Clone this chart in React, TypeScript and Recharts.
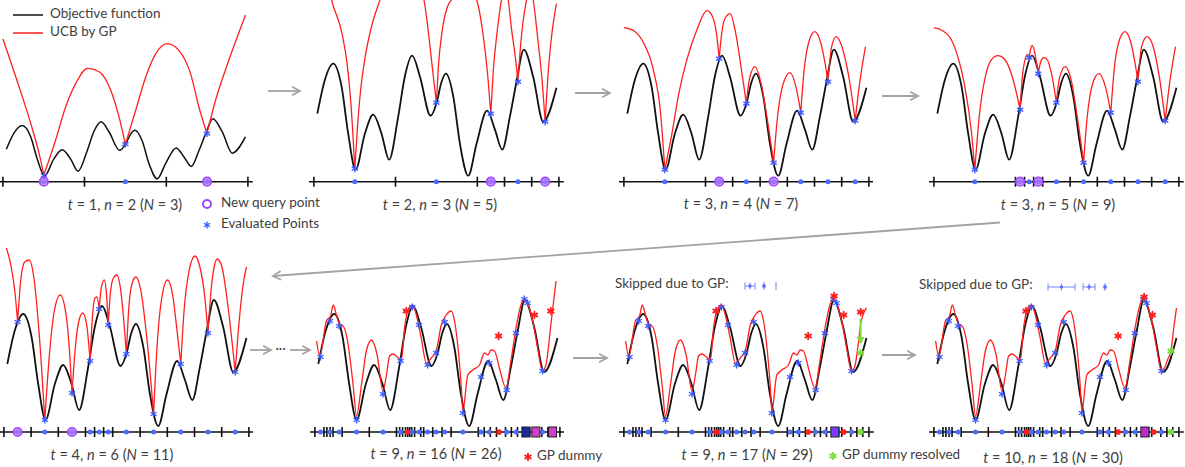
import React from "react";
import { ComposedChart, Line, Scatter, XAxis, YAxis, ReferenceLine } from "recharts";

type Pt = [number, number];

const objective: Pt[] = [
  [0.014, 6.8], [0.045, 10.2], [0.079, 11.8], [0.113, 9.5], [0.14, 4.8], [0.17, 1.2],
  [0.208, 4.8], [0.242, 6.7], [0.276, 4.8], [0.307, 2.2], [0.344, 6.5], [0.371, 10.5],
  [0.401, 12.6], [0.433, 10.5], [0.476, 6.6], [0.501, 7.9], [0.52, 9.9], [0.539, 10.8],
  [0.569, 8.5], [0.596, 3.8], [0.63, 0.6], [0.664, 3.8], [0.707, 7.1], [0.739, 5.2],
  [0.769, 3.2], [0.8, 6.5], [0.827, 10], [0.857, 13.2], [0.895, 10.5], [0.936, 6], [0.99, 9.4],
];

// ---- t = 1, n = 2
const ucb1: Pt[][] = [
  [[0, 30], [0.068, 19.6], [0.122, 10.8], [0.152, 5], [0.167, 1.4]],
  [[0.167, 1.4], [0.215, 8.7], [0.256, 15.7], [0.297, 20.6], [0.345, 23.8], [0.393, 23.1], [0.44, 19.2], [0.474, 13.6], [0.5, 7.8]],
  [[0.5, 7.8], [0.542, 15], [0.583, 22], [0.624, 26.9], [0.671, 29], [0.718, 27.6], [0.766, 22.7], [0.8, 15.7], [0.833, 10.1]],
  [[0.833, 10.1], [0.868, 17.1], [0.922, 25.5], [0.99, 35]],
];
const ticks1 = [0, 0.333, 0.667, 1];
const stars1: Pt[] = [[0.167, 1.3], [0.5, 7.9], [0.833, 10.1]];
const query1 = [0.167, 0.833];

// ---- t = 2, n = 3
const ucb2: Pt[][] = [
  [[0, 30], [0.072, 18.2], [0.115, 14.8], [0.137, 11.5], [0.152, 7.5], [0.167, 1.3]],
  [[0.167, 1.3], [0.178, 5.5], [0.19, 9], [0.206, 12], [0.23, 15], [0.27, 18.2], [0.33, 22], [0.4, 21], [0.449, 18.2], [0.468, 14.8], [0.483, 11.5], [0.5, 7.9]],
  [[0.5, 7.9], [0.508, 11.5], [0.522, 14.8], [0.545, 17.5], [0.562, 18.2], [0.61, 20], [0.664, 18.2], [0.69, 14.8], [0.708, 11], [0.722, 6.8]],
  [[0.722, 6.8], [0.732, 11], [0.748, 15], [0.766, 18.2], [0.78, 19.5], [0.793, 18.2], [0.808, 15], [0.822, 12.5], [0.833, 10]],
  [[0.833, 10], [0.845, 14], [0.868, 18.2], [0.882, 19.5], [0.895, 18.2], [0.915, 14], [0.932, 10], [0.944, 6]],
  [[0.944, 6], [0.955, 10.5], [0.97, 14.5], [0.99, 17.8]],
];
const ticks2 = [0, 0.333, 0.667, 0.778, 0.889, 1];
const stars2: Pt[] = [[0.167, 1.3], [0.5, 7.9], [0.722, 6.8], [0.833, 10], [0.944, 6]];
const query2 = [0.722, 0.944];

// ---- t = 3, n = 4
const ucb3: Pt[][] = [
  [[0, 15.4], [0.04, 15.1], [0.08, 13.9], [0.12, 11.2], [0.15, 6.8], [0.167, 1.2]],
  [[0.167, 1.2], [0.196, 4.8], [0.224, 8.8], [0.257, 12.2], [0.298, 15.2], [0.339, 17.1], [0.362, 16.5], [0.378, 14.8], [0.389, 12.3]],
  [[0.389, 12.3], [0.398, 14.6], [0.412, 16.3], [0.434, 16.8], [0.455, 15], [0.478, 11.5], [0.5, 7.8]],
  [[0.5, 7.8], [0.512, 10.2], [0.535, 11.5], [0.56, 9.8], [0.588, 5.8], [0.611, 1.9]],
  [[0.611, 1.9], [0.625, 6], [0.648, 9.6], [0.678, 10.9], [0.702, 9.5], [0.722, 6.9]],
  [[0.722, 6.9], [0.735, 11], [0.755, 14], [0.779, 15], [0.802, 14], [0.82, 12], [0.833, 10]],
  [[0.833, 10], [0.848, 13.5], [0.867, 14.5], [0.89, 13.5], [0.918, 10.5], [0.944, 6.1]],
  [[0.944, 6.1], [0.962, 9.8], [0.986, 13.5]],
];
const ticks3 = [0, 0.333, 0.444, 0.556, 0.667, 0.778, 0.889, 1];
const stars3: Pt[] = [[0.167, 1.2], [0.389, 12.3], [0.5, 7.8], [0.611, 1.9], [0.722, 6.9], [0.833, 10], [0.944, 6.1]];
const query3 = [0.389, 0.611];

// ---- t = 3, n = 5
const ucb4: Pt[][] = [
  [[0, 15.4], [0.035, 15.1], [0.069, 14.3], [0.1, 12.3], [0.124, 9.8], [0.154, 4.8], [0.167, 1.2]],
  [[0.167, 1.2], [0.185, 6.5], [0.21, 10.5], [0.235, 12.2], [0.261, 12.6], [0.29, 12.2], [0.32, 10.5], [0.352, 7.2]],
  [[0.352, 7.2], [0.36, 10.2], [0.372, 12.2], [0.381, 12.7], [0.389, 12.4]],
  [[0.389, 12.4], [0.395, 13.3], [0.401, 13.6], [0.41, 13.1], [0.418, 12], [0.426, 10.8]],
  [[0.426, 10.8], [0.436, 12], [0.448, 12.4], [0.46, 12.3], [0.48, 10.8], [0.5, 7.9]],
  [[0.5, 7.9], [0.512, 10.3], [0.536, 11.5], [0.56, 10.2], [0.588, 6], [0.611, 1.9]],
  [[0.611, 1.9], [0.625, 6.3], [0.648, 9.8], [0.673, 10.8], [0.7, 9.5], [0.722, 6.9]],
  [[0.722, 6.9], [0.735, 11], [0.755, 14], [0.78, 15], [0.803, 14], [0.82, 12], [0.833, 10]],
  [[0.833, 10], [0.848, 13.5], [0.87, 14.5], [0.895, 13.5], [0.92, 10.5], [0.944, 6.1]],
  [[0.944, 6.1], [0.962, 9.8], [0.986, 13.5]],
];
const ticks4 = [0, 0.333, 0.37, 0.407, 0.444, 0.556, 0.667, 0.778, 0.889, 1];
const stars4: Pt[] = [[0.167, 1.2], [0.352, 7.2], [0.389, 12.4], [0.426, 10.8], [0.5, 7.9], [0.611, 1.9], [0.722, 6.9], [0.833, 10], [0.944, 6.1]];
const query4 = [0.352, 0.426];

// ---- t = 4, n = 6
const ucb5: Pt[][] = [
  [[0.01, 18.4], [0.03, 16.5], [0.045, 14], [0.056, 11]],
  [[0.056, 11], [0.068, 15], [0.085, 17], [0.103, 17.2], [0.122, 15.5], [0.145, 9.5], [0.167, 1.2]],
  [[0.167, 1.2], [0.185, 7.5], [0.205, 12], [0.23, 13.7], [0.255, 11.5], [0.268, 8], [0.278, 3.9]],
  [[0.278, 3.9], [0.29, 8], [0.305, 11], [0.322, 11.9], [0.338, 10.7], [0.352, 7.1]],
  [[0.352, 7.1], [0.36, 11], [0.372, 13.4], [0.38, 13.5], [0.389, 12.3]],
  [[0.389, 12.3], [0.398, 14.5], [0.41, 15.2], [0.418, 14], [0.426, 10.7]],
  [[0.426, 10.7], [0.435, 14], [0.447, 15.4], [0.461, 15.7], [0.475, 14.5], [0.488, 11.5], [0.5, 7.8]],
  [[0.5, 7.8], [0.51, 12.5], [0.525, 15], [0.539, 15.5], [0.56, 14], [0.585, 9], [0.611, 1.8]],
  [[0.611, 1.8], [0.625, 8.5], [0.645, 13.5], [0.668, 15.2], [0.69, 13.5], [0.705, 10.5], [0.722, 6.8]],
  [[0.722, 6.8], [0.735, 12], [0.755, 16], [0.78, 17.6], [0.8, 16.5], [0.82, 13.5], [0.833, 9.9]],
  [[0.833, 9.9], [0.845, 14], [0.858, 16.5], [0.871, 17.3], [0.89, 16.5], [0.915, 12.5], [0.944, 6]],
  [[0.944, 6], [0.96, 11], [0.975, 14.5], [0.99, 16.5]],
];
const ticks5 = [0, 0.111, 0.222, 0.333, 0.37, 0.407, 0.444, 0.556, 0.667, 0.778, 0.889, 1];
const stars5: Pt[] = [[0.056, 11], [0.167, 1.2], [0.278, 3.9], [0.352, 7.1], [0.389, 12.3], [0.426, 10.7], [0.5, 7.8], [0.611, 1.8], [0.722, 6.8], [0.833, 9.9], [0.944, 6]];
const query5 = [0.056, 0.278];

// ---- t = 9 .. 10 (GP-assisted), shared body of the UCB and its three tails
const ucbLate: Pt[] = [
  [0.007, 9.1], [0.02, 7.6], [0.047, 11.1], [0.064, 11.6], [0.075, 12.7], [0.088, 11.7], [0.102, 10.7],
  [0.115, 10.6], [0.136, 8.7], [0.156, 4.7], [0.17, 1.6], [0.19, 4.7], [0.21, 8.1], [0.231, 9.2],
  [0.254, 7.7], [0.278, 4.1], [0.292, 5.7], [0.305, 7.6], [0.319, 7.8], [0.332, 7.6], [0.353, 7.2],
  [0.366, 10.4], [0.38, 12.2], [0.398, 12.7], [0.414, 11.7], [0.434, 9.4], [0.455, 6.9], [0.475, 7.4],
  [0.495, 8.1], [0.516, 10.7], [0.536, 11.7], [0.556, 12.1], [0.57, 11.1], [0.583, 8.7], [0.597, 4.7],
  [0.604, 2.1], [0.624, 5.7], [0.645, 6.2], [0.672, 6.7], [0.692, 7.9], [0.706, 7.7], [0.719, 8.2],
  [0.733, 8.1], [0.753, 6.4], [0.78, 4.4], [0.8, 7.1], [0.821, 10.4], [0.841, 12.7], [0.855, 13.3],
  [0.872, 12.6], [0.889, 11.1], [0.909, 8.4], [0.929, 6.1],
];
const tail6: Pt[] = [[0.943, 6.7], [0.963, 10.7], [0.984, 15.1]];
const tail7: Pt[] = [[0.943, 6.6], [0.955, 8.5], [0.968, 11], [0.99, 12.4]];
const tail8: Pt[] = [[0.943, 6.5], [0.955, 7.3], [0.968, 8.2], [0.978, 10.2], [0.99, 12.4]];
const ticksLate = [
  0, 0.037, 0.049, 0.062, 0.074, 0.111, 0.222, 0.333, 0.346, 0.358, 0.37, 0.379, 0.387, 0.395,
  0.407, 0.432, 0.444, 0.481, 0.519, 0.556, 0.667, 0.691, 0.716, 0.741, 0.778, 0.802, 0.827,
  0.852, 0.864, 0.877, 0.889, 0.926, 0.951, 0.975, 1,
];
const starsLate: Pt[] = [
  [0.023, 7.5], [0.061, 11.1], [0.099, 10.6], [0.17, 1.2], [0.278, 3.8], [0.35, 7.1], [0.398, 12.5],
  [0.425, 10.7], [0.46, 6.7], [0.495, 7.9], [0.53, 11], [0.604, 1.9], [0.678, 5.5], [0.712, 6.9],
  [0.783, 4.2], [0.821, 9.9], [0.855, 13.3], [0.868, 12.9], [0.929, 6.1],
];
const dummies6: Pt[] = [[0.373, 12.1], [0.75, 9.6], [0.896, 11.7], [0.963, 12.1]];
const dummies7: Pt[] = [[0.376, 12.1], [0.752, 9.6], [0.858, 13.6], [0.897, 11.7], [0.966, 12]];
const dummies8: Pt[] = [[0.376, 12.1], [0.752, 9.6], [0.858, 13.5], [0.892, 11.7]];
const resolved7: Pt[] = [[0.966, 7.9]];
const resolved8: Pt[] = [[0.968, 8.1]];
const arrow7: Pt[] = [[0.966, 11.3], [0.966, 8.9]];

const TOP_AXIS = 181.7;
const BOTTOM_AXIS = 431.7;
const PW = 245;
const XPAD = 0.02;

const BLACK = "#111";
const RED = "#ff1f1f";
const BLUE = "#3b5bff";
const PURPLE = "#a347ff";
const GREEN = "#7ddc3a";

type Row = { x: number; y: number | null };
const toRows = (pts: Pt[]): Row[] => pts.map(([x, y]) => ({ x, y }));
const onAxis = (xs: number[]): Row[] => xs.map((x) => ({ x, y: 0 }));
const joinArcs = (arcs: Pt[][]): Row[] => {
  const out: Row[] = [];
  arcs.forEach((arc, i) => {
    if (i > 0) out.push({ x: arc[0][0], y: null });
    arc.forEach(([x, y]) => out.push({ x, y }));
  });
  return out;
};

const tickShape = (p: any) => (
  <line x1={p.cx} x2={p.cx} y1={p.cy - 5} y2={p.cy + 5} stroke={BLACK} strokeWidth={1.6} />
);
const dotShape = (fill: string, r: number) => (p: any) => <circle cx={p.cx} cy={p.cy} r={r} fill={fill} />;
const starShape = (color: string, r: number, w: number) => (p: any) => (
  <g stroke={color} strokeWidth={w} strokeLinecap="round">
    <line x1={p.cx} y1={p.cy - r} x2={p.cx} y2={p.cy + r} />
    <line x1={p.cx - r * 0.87} y1={p.cy - r / 2} x2={p.cx + r * 0.87} y2={p.cy + r / 2} />
    <line x1={p.cx - r * 0.87} y1={p.cy + r / 2} x2={p.cx + r * 0.87} y2={p.cy - r / 2} />
  </g>
);
const ringShape = (p: any) => (
  <circle cx={p.cx} cy={p.cy} r={4.3} fill="#b478ff" fillOpacity={0.75} stroke={PURPLE} strokeWidth={1.6} />
);
const squareShape = (fill: string) => (p: any) => (
  <rect x={p.cx - 4} y={p.cy - 5} width={8} height={10} fill={fill} stroke="#222" strokeWidth={1} />
);
const headShape = (p: any) => (
  <path d={`M${p.cx - 4},${p.cy - 6} L${p.cx},${p.cy + 1} L${p.cx + 4},${p.cy - 6} Z`} fill={GREEN} />
);

interface PanelProps {
  x0: number;
  axisY: number;
  scale: number;
  yMin: number;
  yMax: number;
  ucb: Row[];
  ticks: number[];
  stars: Pt[];
  query?: number[];
  squares?: { x: number; fill: string }[];
  dummies?: Pt[];
  redOnAxis?: number[];
  resolved?: Pt[];
  arrow?: Pt[];
  thin?: boolean;
}

function Panel(props: PanelProps) {
  const { x0, axisY, scale, yMin, yMax } = props;
  const width = PW * (1 + 2 * XPAD);
  const height = (yMax - yMin) * scale;
  const top = axisY - yMax * scale;
  return (
    <div style={{ position: "absolute", left: x0 - PW * XPAD, top, width, height }}>
      <ComposedChart width={width} height={height} margin={{ top: 0, right: 0, bottom: 0, left: 0 }}>
        <XAxis type="number" dataKey="x" domain={[-XPAD, 1 + XPAD]} hide allowDataOverflow />
        <YAxis type="number" dataKey="y" domain={[yMin, yMax]} hide allowDataOverflow />
        <ReferenceLine y={0} stroke={BLACK} strokeWidth={1.6} />
        <Scatter data={onAxis(props.ticks)} dataKey="y" shape={tickShape} isAnimationActive={false} />
        <Line data={toRows(objective)} dataKey="y" type="monotone" stroke={BLACK}
          strokeWidth={props.thin ? 1.5 : 1.8} dot={false} activeDot={false} isAnimationActive={false} />
        <Line data={props.ucb} dataKey="y" type="monotone" stroke={RED} strokeWidth={1.3}
          dot={false} activeDot={false} connectNulls={false} isAnimationActive={false} />
        {props.arrow && (
          <Line data={toRows(props.arrow)} dataKey="y" type="linear" stroke={GREEN} strokeWidth={2}
            dot={false} activeDot={false} isAnimationActive={false} />
        )}
        {props.arrow && (
          <Scatter data={toRows(props.arrow.slice(1))} dataKey="y" shape={headShape} isAnimationActive={false} />
        )}
        <Scatter data={toRows(props.stars)} dataKey="y" shape={starShape(BLUE, 3, 1.4)} isAnimationActive={false} />
        {props.dummies && (
          <Scatter data={toRows(props.dummies)} dataKey="y" shape={starShape(RED, 3.3, 1.8)} isAnimationActive={false} />
        )}
        {props.resolved && (
          <Scatter data={toRows(props.resolved)} dataKey="y" shape={starShape(GREEN, 3.3, 1.8)} isAnimationActive={false} />
        )}
        <Scatter data={onAxis(props.stars.map((s) => s[0]))} dataKey="y" shape={dotShape("#4a6cff", 2.5)} isAnimationActive={false} />
        {props.redOnAxis && (
          <Scatter data={onAxis(props.redOnAxis)} dataKey="y" shape={dotShape(RED, 2.8)} isAnimationActive={false} />
        )}
        {props.resolved && (
          <Scatter data={onAxis(props.resolved.map((s) => s[0]))} dataKey="y" shape={dotShape(GREEN, 3)} isAnimationActive={false} />
        )}
        {props.squares && props.squares.map((s, i) => (
          <Scatter key={i} data={onAxis([s.x])} dataKey="y" shape={squareShape(s.fill)} isAnimationActive={false} />
        ))}
        {props.query && (
          <Scatter data={onAxis(props.query)} dataKey="y" shape={ringShape} isAnimationActive={false} />
        )}
      </ComposedChart>
    </div>
  );
}

const panels: PanelProps[] = [
  { x0: 3.3, axisY: TOP_AXIS, scale: 4.76, yMin: -3, yMax: 38.17, ucb: joinArcs(ucb1), ticks: ticks1, stars: stars1, query: query1, thin: true },
  { x0: 314, axisY: TOP_AXIS, scale: 10, yMin: -1.4, yMax: 18.17, ucb: joinArcs(ucb2), ticks: ticks2, stars: stars2, query: query2 },
  { x0: 623.5, axisY: TOP_AXIS, scale: 10, yMin: -1.4, yMax: 18.17, ucb: joinArcs(ucb3), ticks: ticks3, stars: stars3, query: query3 },
  { x0: 934, axisY: TOP_AXIS, scale: 10, yMin: -1.4, yMax: 18.17, ucb: joinArcs(ucb4), ticks: ticks4, stars: stars4, query: query4 },
  { x0: 3.5, axisY: BOTTOM_AXIS, scale: 10, yMin: -1.4, yMax: 19.5, ucb: joinArcs(ucb5), ticks: ticks5, stars: stars5, query: query5 },
  {
    x0: 314.5, axisY: BOTTOM_AXIS, scale: 10, yMin: -1.4, yMax: 19.5, ucb: joinArcs([ucbLate.concat(tail6)]),
    ticks: ticksLate, stars: starsLate, dummies: dummies6, redOnAxis: [0.378, 0.752],
    squares: [{ x: 0.861, fill: "#1a2a9a" }, { x: 0.902, fill: "#d23ccf" }, { x: 0.97, fill: "#d23ccf" }],
  },
  {
    x0: 624, axisY: BOTTOM_AXIS, scale: 10, yMin: -1.4, yMax: 19.5, ucb: joinArcs([ucbLate.concat(tail7)]),
    ticks: ticksLate, stars: starsLate, dummies: dummies7, redOnAxis: [0.378, 0.752, 0.898],
    resolved: resolved7, arrow: arrow7, squares: [{ x: 0.861, fill: "#7a3cff" }],
  },
  {
    x0: 934, axisY: BOTTOM_AXIS, scale: 10, yMin: -1.4, yMax: 19.5, ucb: joinArcs([ucbLate.concat(tail8)]),
    ticks: ticksLate, stars: starsLate, dummies: dummies8, redOnAxis: [0.378, 0.752, 0.898],
    resolved: resolved8, squares: [{ x: 0.861, fill: "#c02ad0" }],
  },
];

const captions: { x: number; y: number; t: string; n: string; N: string }[] = [
  { x: 125, y: 206, t: "1", n: "2", N: "3" },
  { x: 440, y: 206, t: "2", n: "3", N: "5" },
  { x: 741, y: 205, t: "3", n: "4", N: "7" },
  { x: 1058, y: 206, t: "3", n: "5", N: "9" },
  { x: 112, y: 456, t: "4", n: "6", N: "11" },
  { x: 436, y: 455, t: "9", n: "16", N: "26" },
  { x: 747, y: 456, t: "9", n: "17", N: "29" },
  { x: 1053, y: 459, t: "10", n: "18", N: "30" },
];

const grayArrows: [number, number, number, number][] = [
  [268, 91, 300, 91], [575, 93, 610, 93], [882, 96, 918, 96], [1000, 222.5, 273, 276],
  [250, 350, 271, 350], [290, 350, 310, 350], [573, 358, 607, 358], [882, 355, 915, 355],
];

function GrayArrow({ a }: { a: [number, number, number, number] }) {
  const [x1, y1, x2, y2] = a;
  const ang = Math.atan2(y2 - y1, x2 - x1);
  const h = 9, s = 0.5;
  const p1 = `${x2 - h * Math.cos(ang - s)},${y2 - h * Math.sin(ang - s)}`;
  const p2 = `${x2 - h * Math.cos(ang + s)},${y2 - h * Math.sin(ang + s)}`;
  return (
    <g stroke="#a3a3a3" strokeWidth={1.8} fill="none">
      <line x1={x1} y1={y1} x2={x2} y2={y2} />
      <polyline points={`${p1} ${x2},${y2} ${p2}`} />
    </g>
  );
}

function Interval({ a, b, y }: { a: number; b: number; y: number }) {
  const m = (a + b) / 2;
  return (
    <g stroke="#7f90ff" strokeWidth={1.1}>
      <line x1={a} y1={y} x2={b} y2={y} />
      <line x1={a} y1={y - 3.5} x2={a} y2={y + 3.5} />
      <line x1={b} y1={y - 3.5} x2={b} y2={y + 3.5} />
      <line x1={m} y1={y - 3.5} x2={m} y2={y + 3.5} />
      <circle cx={m} cy={y} r={1.7} fill="#5a70ff" stroke="none" />
    </g>
  );
}

function Mark({ x, y, dot }: { x: number; y: number; dot?: boolean }) {
  return (
    <g stroke="#7f90ff" strokeWidth={1.1}>
      <line x1={x} y1={y - 4} x2={x} y2={y + 4} />
      {dot && <circle cx={x} cy={y} r={1.9} fill="#5a70ff" stroke="none" />}
    </g>
  );
}

const svgStar = (x: number, y: number, color: string, r: number, w: number) =>
  starShape(color, r, w)({ cx: x, cy: y });

export default function App() {
  const textStyle = { fontFamily: "Lato, 'Open Sans', sans-serif", fill: "#404040" };
  const fs = 13.5;
  return (
    <div style={{ position: "absolute", left: 0, top: 0, width: 1185, height: 467, background: "#fff", overflow: "hidden" }}>
      {panels.map((p, i) => <Panel key={i} {...p} />)}
      <svg width={1185} height={467} style={{ position: "absolute", left: 0, top: 0, pointerEvents: "none" }}>
        {grayArrows.map((a, i) => <GrayArrow key={i} a={a} />)}
        <text x={280.5} y={350} fontSize={13} textAnchor="middle" dominantBaseline="middle" style={textStyle}>···</text>

        {/* legend */}
        <line x1={13} y1={15} x2={43} y2={15} stroke={BLACK} strokeWidth={1.5} />
        <text x={50} y={15} fontSize={fs} dominantBaseline="middle" style={textStyle}>Objective function</text>
        <line x1={13} y1={33} x2={43} y2={33} stroke={RED} strokeWidth={1.5} />
        <text x={50} y={33} fontSize={fs} dominantBaseline="middle" style={textStyle}>UCB by GP</text>

        <circle cx={207} cy={204} r={4} fill="none" stroke={PURPLE} strokeWidth={2} />
        <text x={221} y={204} fontSize={fs} dominantBaseline="middle" style={textStyle}>New query point</text>
        {svgStar(207, 225, BLUE, 3, 1.4)}
        <text x={221} y={225} fontSize={fs} dominantBaseline="middle" style={textStyle}>Evaluated Points</text>

        {svgStar(528, 457, RED, 3.3, 1.8)}
        <text x={537} y={457} fontSize={fs} dominantBaseline="middle" style={textStyle}>GP dummy</text>
        {svgStar(833, 456, GREEN, 3.3, 1.8)}
        <text x={842} y={456} fontSize={fs} dominantBaseline="middle" style={textStyle}>GP dummy resolved</text>

        {/* skipped intervals */}
        <text x={615} y={285} fontSize={fs} dominantBaseline="middle" style={textStyle}>Skipped due to GP:</text>
        <Interval a={745} b={755} y={286} />
        <Mark x={764} y={286} dot />
        <Mark x={776} y={286} />
        <text x={919} y={286} fontSize={fs} dominantBaseline="middle" style={textStyle}>Skipped due to GP:</text>
        <Interval a={1048} b={1075} y={287} />
        <Interval a={1083} b={1095} y={287} />
        <Mark x={1105} y={287} dot />

        {captions.map((c, i) => (
          <text key={i} x={c.x} y={c.y} fontSize={14.5} textAnchor="middle" dominantBaseline="middle" style={textStyle}>
            <tspan fontStyle="italic">t</tspan> = {c.t}, <tspan fontStyle="italic">n</tspan> = {c.n} (<tspan fontStyle="italic">N</tspan> = {c.N})
          </text>
        ))}
      </svg>
    </div>
  );
}
